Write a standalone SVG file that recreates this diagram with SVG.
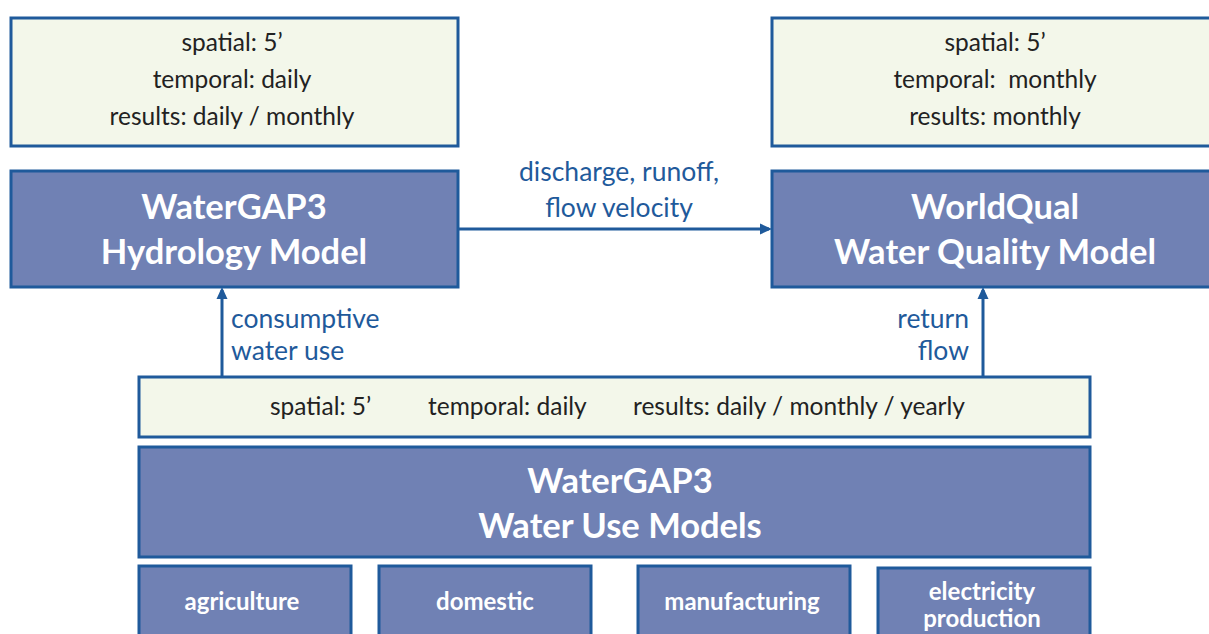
<svg xmlns="http://www.w3.org/2000/svg" width="1209" height="634" viewBox="0 0 1209 634">
<defs>
<style>
.info{fill:#f3f7ea;stroke:#1f5a9b;stroke-width:3}
.model{fill:#7081b4;stroke:#1f5a9b;stroke-width:3}
.t{font-family:Lato,"Open Sans","Liberation Sans",sans-serif;font-size:24.5px;fill:#222;text-anchor:middle}
.h{font-family:Lato,"Open Sans","Liberation Sans",sans-serif;font-size:34.5px;font-weight:bold;fill:#fff;text-anchor:middle}
.s{font-family:Lato,"Open Sans","Liberation Sans",sans-serif;font-size:24px;font-weight:bold;fill:#fff;text-anchor:middle}
.l{font-family:Lato,"Open Sans","Liberation Sans",sans-serif;font-size:26.5px;fill:#1f5a9b}
.c{stroke:#1f5a9b;stroke-width:3;fill:none}
</style>
<marker id="arr" markerWidth="12" markerHeight="12" refX="9" refY="6" orient="auto" markerUnits="userSpaceOnUse" viewBox="0 0 12 12">
<path d="M0,0.5 L12,6 L0,11.5 Z" fill="#1f5a9b"/>
</marker>
</defs>
<rect width="1209" height="634" fill="#fff"/>
<g id="hydro-info">
<rect class="info" x="11" y="18" width="447" height="128"/>
<text class="t" x="232" y="51">spatial: 5’</text>
<text class="t" x="232" y="88">temporal: daily</text>
<text class="t" x="232" y="125">results: daily / monthly</text>
</g>
<g id="hydro">
<rect class="model" x="11" y="171" width="447" height="116"/>
<text class="h" x="234" y="219">WaterGAP3</text>
<text class="h" x="234" y="264">Hydrology Model</text>
</g>
<g id="wq-info">
<rect class="info" x="772" y="18" width="447" height="128"/>
<text class="t" x="995" y="51">spatial: 5’</text>
<text class="t" x="995" y="88" xml:space="preserve">temporal:  monthly</text>
<text class="t" x="995" y="125">results: monthly</text>
</g>
<g id="wq">
<rect class="model" x="772" y="171" width="447" height="116"/>
<text class="h" x="995" y="219">WorldQual</text>
<text class="h" x="995" y="264">Water Quality Model</text>
</g>
<g id="wu-info">
<rect class="info" x="139" y="377" width="951" height="60"/>
<text class="t" x="270" y="415" style="text-anchor:start">spatial: 5’</text>
<text class="t" x="428" y="415" style="text-anchor:start">temporal: daily</text>
<text class="t" x="633" y="415" style="text-anchor:start">results: daily / monthly / yearly</text>
</g>
<g id="wu">
<rect class="model" x="139" y="447" width="951" height="110"/>
<text class="h" x="620" y="493">WaterGAP3</text>
<text class="h" x="620" y="538">Water Use Models</text>
</g>
<g id="agriculture">
<rect class="model" x="139" y="566" width="212" height="80"/>
<text class="s" x="242" y="610">agriculture</text>
</g>
<g id="domestic">
<rect class="model" x="379" y="566" width="212" height="80"/>
<text class="s" x="485" y="610">domestic</text>
</g>
<g id="manufacturing">
<rect class="model" x="638" y="566" width="212" height="80"/>
<text class="s" x="742" y="610">manufacturing</text>
</g>
<g id="electricity">
<rect class="model" x="878" y="568" width="212" height="80"/>
<text class="s" x="982" y="600">electricity</text>
<text class="s" x="982" y="627">production</text>
</g>
<g id="connectors">
<line class="c" x1="458" y1="229" x2="769" y2="229" marker-end="url(#arr)"/>
<line class="c" x1="222" y1="377" x2="222" y2="290" marker-end="url(#arr)"/>
<line class="c" x1="983" y1="377" x2="983" y2="290" marker-end="url(#arr)"/>
<text class="l" x="619" y="181" text-anchor="middle">discharge, runoff,</text>
<text class="l" x="619" y="217" text-anchor="middle">flow velocity</text>
<text class="l" x="231" y="328">consumptive</text>
<text class="l" x="231" y="360">water use</text>
<text class="l" x="969" y="328" text-anchor="end">return</text>
<text class="l" x="969" y="360" text-anchor="end">flow</text>
</g>
</svg>
